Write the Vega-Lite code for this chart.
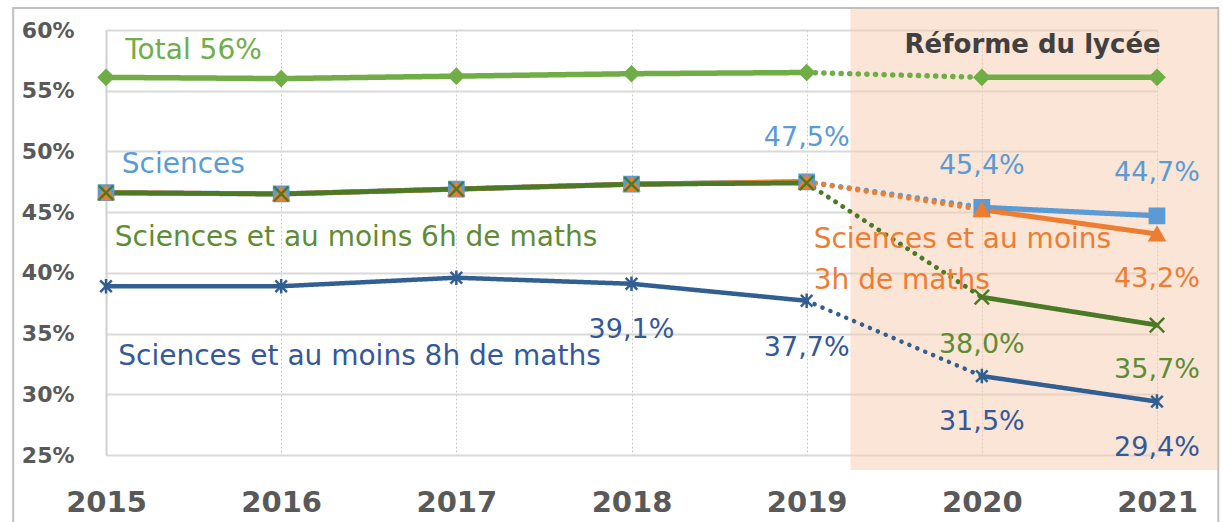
{
  "$schema": "https://vega.github.io/schema/vega-lite/v6.json",
  "width": 1051,
  "height": 425,
  "autosize": {"type": "none"},
  "padding": {"left": 106, "top": 30, "right": 66, "bottom": 67},
  "background": "white",
  "view": {"stroke": null},
  "config": {"font": "DejaVu Sans"},
  "datasets": {
    "series": [
      {"series": "Total", "year": 2015, "value": 56.1},
      {"series": "Total", "year": 2016, "value": 56.0},
      {"series": "Total", "year": 2017, "value": 56.2},
      {"series": "Total", "year": 2018, "value": 56.4},
      {"series": "Total", "year": 2019, "value": 56.5},
      {"series": "Total", "year": 2020, "value": 56.1},
      {"series": "Total", "year": 2021, "value": 56.1},
      {"series": "Sciences", "year": 2015, "value": 46.6},
      {"series": "Sciences", "year": 2016, "value": 46.5},
      {"series": "Sciences", "year": 2017, "value": 46.9},
      {"series": "Sciences", "year": 2018, "value": 47.3},
      {"series": "Sciences", "year": 2019, "value": 47.5},
      {"series": "Sciences", "year": 2020, "value": 45.4},
      {"series": "Sciences", "year": 2021, "value": 44.7},
      {"series": "3h", "year": 2015, "value": 46.6},
      {"series": "3h", "year": 2016, "value": 46.5},
      {"series": "3h", "year": 2017, "value": 46.9},
      {"series": "3h", "year": 2018, "value": 47.3},
      {"series": "3h", "year": 2019, "value": 47.5},
      {"series": "3h", "year": 2020, "value": 45.2},
      {"series": "3h", "year": 2021, "value": 43.2},
      {"series": "6h", "year": 2015, "value": 46.6},
      {"series": "6h", "year": 2016, "value": 46.5},
      {"series": "6h", "year": 2017, "value": 46.9},
      {"series": "6h", "year": 2018, "value": 47.3},
      {"series": "6h", "year": 2019, "value": 47.4},
      {"series": "6h", "year": 2020, "value": 38.0},
      {"series": "6h", "year": 2021, "value": 35.7},
      {"series": "8h", "year": 2015, "value": 38.9},
      {"series": "8h", "year": 2016, "value": 38.9},
      {"series": "8h", "year": 2017, "value": 39.6},
      {"series": "8h", "year": 2018, "value": 39.1},
      {"series": "8h", "year": 2019, "value": 37.7},
      {"series": "8h", "year": 2020, "value": 31.5},
      {"series": "8h", "year": 2021, "value": 29.4}
    ],
    "names": [
      {"series": "Total", "text": "Total 56%", "x": 2015.11, "y": 58.3},
      {"series": "Sciences", "text": "Sciences", "x": 2015.09, "y": 48.9},
      {"series": "6h", "text": "Sciences et au moins 6h de maths", "x": 2015.05, "y": 42.9},
      {"series": "8h", "text": "Sciences et au moins 8h de maths", "x": 2015.07, "y": 33.1},
      {"series": "3h", "text": "Sciences et au moins", "x": 2019.04, "y": 42.7},
      {"series": "3h", "text": "3h de maths", "x": 2019.04, "y": 39.3}
    ],
    "values": [
      {"series": "Sciences", "text": "47,5%", "x": 2019, "y": 51.1},
      {"series": "Sciences", "text": "45,4%", "x": 2020, "y": 48.8},
      {"series": "Sciences", "text": "44,7%", "x": 2021, "y": 48.2},
      {"series": "3h", "text": "43,2%", "x": 2021, "y": 39.5},
      {"series": "6h", "text": "38,0%", "x": 2020, "y": 34.05},
      {"series": "6h", "text": "35,7%", "x": 2021, "y": 32.0},
      {"series": "8h", "text": "39,1%", "x": 2018, "y": 35.3},
      {"series": "8h", "text": "37,7%", "x": 2019, "y": 33.8},
      {"series": "8h", "text": "31,5%", "x": 2020, "y": 27.7},
      {"series": "8h", "text": "29,4%", "x": 2021, "y": 25.6}
    ],
    "zones": [
      {"kind": "shade", "x": 2019.25, "x2": 2021.35, "y": 23.76, "y2": 61.8},
      {"kind": "frame", "x": 2014.47, "x2": 2021.35, "y": 19.0, "y2": 61.81}
    ],
    "title": [
      {"text": "Réforme du lycée", "x": 2020.29, "y": 58.76}
    ]
  },
  "encoding": {
    "x": {
      "type": "quantitative",
      "scale": {"domain": [2015, 2021], "nice": false, "zero": false}
    },
    "y": {
      "type": "quantitative",
      "scale": {"domain": [25, 60], "nice": false, "zero": false}
    }
  },
  "layer": [
    {
      "data": {"name": "zones"},
      "transform": [{"filter": "datum.kind === 'shade'"}],
      "mark": {"type": "rect", "fill": "#F8CBAD", "opacity": 0.5, "clip": false},
      "encoding": {
        "x": {"field": "x", "type": "quantitative",
          "axis": {
            "values": [2015, 2016, 2017, 2018, 2019, 2020, 2021],
            "format": "d", "title": null, "ticks": false, "domain": false,
            "labelFlush": false, "labelOverlap": false, "labelBound": false,
            "grid": true, "gridColor": "#C8C8C8", "gridDash": [2, 2], "gridWidth": 1,
            "labelFont": "DejaVu Sans", "labelFontWeight": "bold", "labelFontSize": 29,
            "labelColor": "#595959", "labelPadding": 33
          }},
        "x2": {"field": "x2"},
        "y": {"field": "y", "type": "quantitative",
          "axis": {
            "values": [25, 30, 35, 40, 45, 50, 55, 60],
            "labelExpr": "datum.value + '%'", "title": null, "ticks": false,
            "labelFlush": false, "labelOverlap": false, "labelBound": false,
            "domain": true, "domainColor": "#D0D0D0", "domainWidth": 2,
            "grid": true, "gridColor": "#D9D9D9", "gridWidth": 2,
            "labelFont": "DejaVu Sans", "labelFontWeight": "bold", "labelFontSize": 22,
            "labelColor": "#595959", "labelPadding": 32
          }},
        "y2": {"field": "y2"}
      }
    },
    {
      "data": {"name": "zones"},
      "transform": [{"filter": "datum.kind === 'frame'"}],
      "mark": {"type": "rect", "fill": null, "stroke": "#BFBFBF", "strokeWidth": 2, "clip": false},
      "encoding": {
        "x": {"field": "x", "type": "quantitative"},
        "x2": {"field": "x2"},
        "y": {"field": "y", "type": "quantitative"},
        "y2": {"field": "y2"}
      }
    },
    {
      "data": {"name": "series"},
      "transform": [
        {"window": [{"op": "lead", "field": "year", "as": "nyear"}, {"op": "lead", "field": "value", "as": "nvalue"}],
         "groupby": ["series"], "sort": [{"field": "year", "order": "ascending"}]},
        {"filter": "datum.nyear != null"}
      ],
      "mark": {"type": "rule", "strokeCap": "round"},
      "encoding": {
        "x": {"field": "year", "type": "quantitative"},
        "x2": {"field": "nyear"},
        "y": {"field": "value", "type": "quantitative"},
        "y2": {"field": "nvalue"},
        "stroke": {"field": "series", "type": "nominal", "legend": null,
          "scale": {"domain": ["Total", "Sciences", "3h", "6h", "8h"],
            "range": ["#70AD47", "#5B9BD5", "#ED7D31", "#4B7A27", "#325F91"]}},
        "strokeWidth": {"field": "series", "type": "nominal", "legend": null,
          "scale": {"domain": ["Total", "Sciences", "3h", "6h", "8h"],
            "range": [5.5, 4.5, 4.5, 6, 4.5]}},
        "strokeDash": {"condition": {"test": "datum.year === 2019", "value": [0.1, 8.5]}, "value": [1, 0]}
      }
    },
    {
      "data": {"name": "series"},
      "mark": {"type": "point", "filled": true, "opacity": 1, "strokeWidth": 2.5},
      "encoding": {
        "x": {"field": "year", "type": "quantitative"},
        "y": {"field": "value", "type": "quantitative"},
        "fill": {"field": "series", "type": "nominal", "legend": null,
          "scale": {"domain": ["Total", "Sciences", "3h", "6h", "8h"],
            "range": ["#70AD47", "#5B9BD5", "#ED7D31", "#4B7A27", "#325F91"]}},
        "stroke": {"field": "series", "type": "nominal", "legend": null},
        "shape": {"field": "series", "type": "nominal", "legend": null,
          "scale": {"domain": ["Total", "Sciences", "3h", "6h", "8h"],
            "range": ["diamond", "square", "triangle-up", "M-1,-1L1,1M-1,1L1,-1", "M0,-1L0,1M-0.8,-0.8L0.8,0.8M-0.8,0.8L0.8,-0.8"]}},
        "size": {"field": "series", "type": "nominal", "legend": null,
          "scale": {"domain": ["Total", "Sciences", "3h", "6h", "8h"],
            "range": [200, 210, 130, 150, 220]}}
      }
    },
    {
      "data": {"name": "names"},
      "mark": {"type": "text", "align": "left", "baseline": "middle", "font": "DejaVu Sans", "fontSize": 28},
      "encoding": {
        "x": {"field": "x", "type": "quantitative"},
        "y": {"field": "y", "type": "quantitative"},
        "text": {"field": "text"},
        "color": {"field": "series", "type": "nominal", "legend": null,
          "scale": {"domain": ["Total", "Sciences", "3h", "6h", "8h"],
            "range": ["#70AD47", "#5B9BD5", "#ED7D31", "#5E8C35", "#34589A"]}}
      }
    },
    {
      "data": {"name": "values"},
      "mark": {"type": "text", "align": "center", "baseline": "middle", "font": "DejaVu Sans", "fontSize": 27},
      "encoding": {
        "x": {"field": "x", "type": "quantitative"},
        "y": {"field": "y", "type": "quantitative"},
        "text": {"field": "text"},
        "color": {"field": "series", "type": "nominal", "legend": null}
      }
    },
    {
      "data": {"name": "title"},
      "mark": {"type": "text", "align": "center", "baseline": "middle", "font": "DejaVu Sans", "fontWeight": "bold", "fontSize": 26, "color": "#404040"},
      "encoding": {
        "x": {"field": "x", "type": "quantitative"},
        "y": {"field": "y", "type": "quantitative"},
        "text": {"field": "text"}
      }
    }
  ]
}
